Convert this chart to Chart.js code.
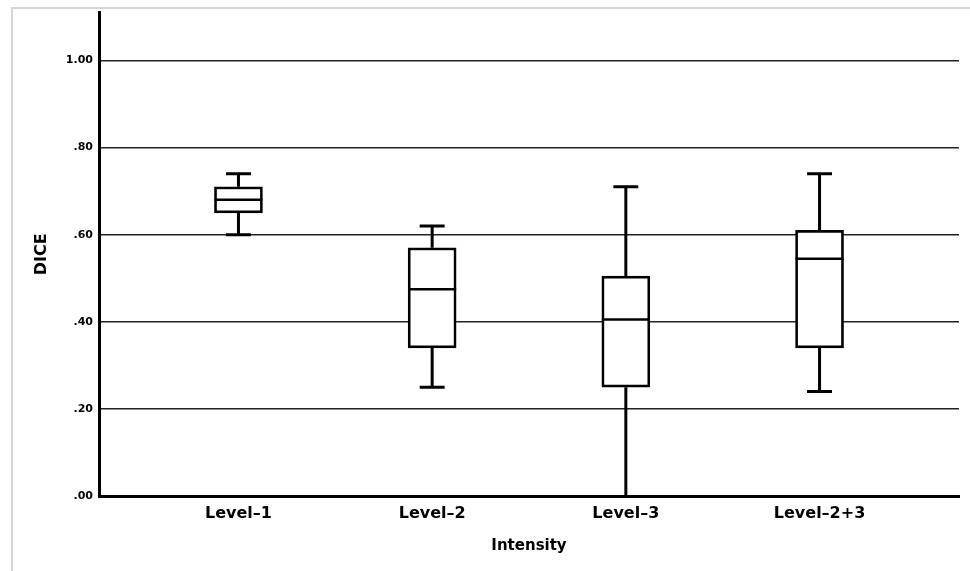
<!DOCTYPE html>
<html lang="en">
<head>
  <meta charset="UTF-8">
  <title>DICE by Intensity</title>
  <script src="https://cdn.jsdelivr.net/npm/chart.js"></script>
  <style>
    body {
      margin: 0;
      background: #fff;
    }
    #wrap {
      position: relative;
      width: 970px;
      height: 571px;
    }
    #frame {
      position: absolute;
      top: 7px;
      left: 11px;
      right: 0;
      bottom: 0;
      border-top: 2px solid #d6d6d6;
      border-left: 2px solid #d6d6d6;
    }
    #chart {
      position: absolute;
      top: 0;
      left: 0;
    }
  </style>
</head>
<body>
  <div id="wrap">
    <div id="frame"></div>
    <canvas id="chart" width="970" height="571"></canvas>
  </div>

  <script>
    const categories = ["Level\u20131", "Level\u20132", "Level\u20133", "Level\u20132+3"];
    const positions = [1, 2, 3, 4];
    const mins = [0.60, 0.25, 0.00, 0.24];
    const q1s = [0.65, 0.34, 0.25, 0.34];
    const medians = [0.68, 0.475, 0.405, 0.545];
    const q3s = [0.71, 0.57, 0.505, 0.61];
    const maxs = [0.74, 0.62, 0.71, 0.74];
    const yTicks = [0, 0.2, 0.4, 0.6, 0.8, 1.0];
    const yTickLabels = [".00", ".20", ".40", ".60", ".80", "1.00"];

    Chart.defaults.font.family = "'DejaVu Sans', sans-serif";
    Chart.defaults.color = "#000";

    // bigodes, tampas e mediana desenhados sobre as caixas
    const whiskers = {
      id: "whiskers",
      afterDatasetsDraw(chart) {
        const ctx = chart.ctx;
        const y = chart.scales.y;
        const meta = chart.getDatasetMeta(0);
        ctx.save();
        ctx.strokeStyle = "#000";
        ctx.lineCap = "butt";
        meta.data.forEach((bar, i) => {
          const cx = bar.x;
          const half = bar.width / 2;
          const cap = bar.width * 0.26;
          ctx.lineWidth = 3;
          ctx.beginPath();
          ctx.moveTo(cx, y.getPixelForValue(q3s[i]));
          ctx.lineTo(cx, y.getPixelForValue(maxs[i]));
          ctx.moveTo(cx, y.getPixelForValue(q1s[i]));
          ctx.lineTo(cx, y.getPixelForValue(mins[i]));
          ctx.moveTo(cx - cap, y.getPixelForValue(maxs[i]));
          ctx.lineTo(cx + cap, y.getPixelForValue(maxs[i]));
          if (mins[i] > 0) {
            ctx.moveTo(cx - cap, y.getPixelForValue(mins[i]));
            ctx.lineTo(cx + cap, y.getPixelForValue(mins[i]));
          }
          ctx.stroke();
          ctx.lineWidth = 2.5;
          ctx.beginPath();
          ctx.moveTo(cx - half, y.getPixelForValue(medians[i]));
          ctx.lineTo(cx + half, y.getPixelForValue(medians[i]));
          ctx.stroke();
        });
        ctx.restore();
      }
    };

    const ctx = document.getElementById("chart").getContext("2d");
    const chart = new Chart(ctx, {
      type: "bar",
      data: {
        datasets: [{
          label: "DICE",
          data: positions.map((p, i) => ({ x: p, y: [q1s[i], q3s[i]] })),
          backgroundColor: "#fff",
          borderColor: "#000",
          borderWidth: 2.7,
          borderSkipped: false,
          barThickness: 48
        }]
      },
      options: {
        responsive: false,
        animation: false,
        layout: { padding: { top: 10, right: 11, bottom: 0, left: 0 } },
        plugins: {
          legend: { display: false },
          tooltip: { enabled: false }
        },
        scales: {
          x: {
            type: "linear",
            offset: false,
            min: 0.28,
            max: 4.72,
            afterBuildTicks: scale => { scale.ticks = positions.map(v => ({ value: v })); },
            afterFit: scale => { scale.height = 75; },
            grid: { display: false, drawTicks: false },
            border: { display: true, color: "#000", width: 3 },
            ticks: {
              autoSkip: false,
              maxRotation: 0,
              padding: 10,
              font: { size: 16, weight: "bold", lineHeight: 1 },
              callback: v => categories[positions.indexOf(v)]
            },
            title: {
              display: true,
              text: "Intensity",
              font: { size: 15, weight: "bold", lineHeight: 1 },
              padding: { top: 0, bottom: 17 }
            }
          },
          y: {
            min: 0,
            max: 1.11,
            afterBuildTicks: scale => { scale.ticks = yTicks.map(v => ({ value: v })); },
            afterFit: scale => { scale.width = 99; },
            grid: { color: "#222", lineWidth: 1.6, drawTicks: false },
            border: { display: true, color: "#000", width: 3 },
            ticks: {
              padding: 6,
              font: { size: 11, weight: "bold" },
              callback: v => yTickLabels[yTicks.indexOf(v)]
            },
            title: {
              display: true,
              text: "DICE",
              font: { size: 16, weight: "bold", lineHeight: 1 },
              padding: { top: 34, bottom: 0 }
            }
          }
        }
      },
      plugins: [whiskers]
    });
  </script>
</body>
</html>
